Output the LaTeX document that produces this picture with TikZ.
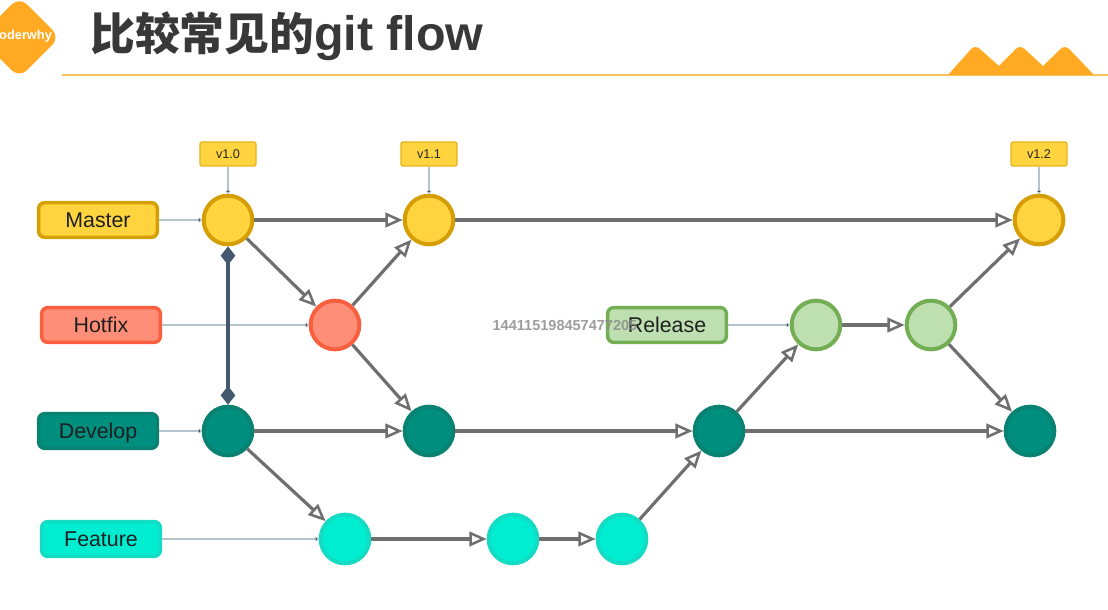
\documentclass[tikz,border=0pt]{standalone}
\usepackage{fontspec}
\setmainfont{Liberation Sans}
\newfontfamily\cjk{Noto Sans CJK SC}
\usepackage{tikz}
\usetikzlibrary{arrows.meta}
\definecolor{orangeA}{HTML}{FFAA22}
\definecolor{ruleA}{HTML}{F9C25C}
\definecolor{edgeA}{HTML}{6F6F6F}
\definecolor{thinA}{HTML}{B4C4CC}
\definecolor{linkA}{HTML}{44596E}
\definecolor{masterF}{HTML}{FFD43E}
\definecolor{masterD}{HTML}{D69E05}
\definecolor{hotfixF}{HTML}{FF8E78}
\definecolor{hotfixD}{HTML}{FA5F40}
\definecolor{releaseF}{HTML}{BEE0B0}
\definecolor{releaseD}{HTML}{73AE55}
\definecolor{developF}{HTML}{008F7F}
\definecolor{developD}{HTML}{0A8272}
\definecolor{featureF}{HTML}{00EDD2}
\definecolor{featureD}{HTML}{14DCC4}
\tikzset{
  >={Triangle[open,length=13pt,width=11pt,line width=1.9pt]}, % open arrow heads of the branches
  flow/.style={draw=edgeA, line width=2.4pt, ->},
  thin link/.style={draw=thinA, line width=0.8pt, -{Circle[length=3.5pt,width=3.5pt]}},
  label box/.style={rounded corners=4.5pt, line width=2.6pt, minimum width=89pt, minimum height=26pt, font=\fontsize{16}{16}\selectfont, text=black!88, inner sep=0pt, text height=11.5pt, text depth=0pt},
  commit/.style={circle, line width=3pt, minimum size=36.5pt, inner sep=0pt},
  tag/.style={draw=masterD!60!masterF, fill=masterF, rounded corners=1.5pt, line width=1pt, minimum width=42pt, minimum height=18pt, inner sep=0pt, font=\fontsize{9.5}{9.5}\selectfont, text=black!85},
  master/.style={draw=masterD, fill=masterF},
  hotfix/.style={draw=hotfixD, fill=hotfixF},
  release/.style={draw=releaseD, fill=releaseF},
  develop/.style={draw=developD, fill=developF},
  feature/.style={draw=featureD, fill=featureF},
}
\begin{document}
\begin{tikzpicture}
      \useasboundingbox (0,0) rectangle (831pt,-457.5pt);
      \begin{scope}
      \clip (0,0) rectangle (831pt,-457.5pt);
      % header
      \node[fill=orangeA, rounded corners=8pt, rotate=45, minimum size=43pt, inner sep=0pt] (logo) at (14.5pt,-28pt) {};
      \node[text=white, font=\bfseries\fontsize{9.6}{9.6}\selectfont, inner sep=0pt] (logotext) at (16.5pt,-27pt) {coderwhy};
      \end{scope}
      \node[anchor=west, inner sep=0pt, text=black!78, font=\bfseries\fontsize{36.3}{36.3}\selectfont] (title) at (67.5pt,-27.5pt) {{\cjk\fontsize{33.6}{33.6}\selectfont 比较常见的}git flow};
      \coordinate (rulestart) at (46.5pt,-56.25pt);
      \coordinate (ruleend) at (831pt,-56.25pt);
      \draw[ruleA, line width=1.3pt] (rulestart) -- (ruleend);
      \fill[orangeA] (711pt,-56.25pt) [rounded corners=4.5pt] -- (731.25pt,-33.5pt) [sharp corners] -- (749.25pt,-49.5pt) [rounded corners=4.5pt] -- (765pt,-33.5pt) [sharp corners] -- (782.25pt,-49.5pt) [rounded corners=4.5pt] -- (798.75pt,-33.5pt) [sharp corners] -- (820.5pt,-56.25pt) -- cycle;

      % labels
      \node[label box, master] (master) at (73.5pt,-165pt) {Master};
      \node[label box, hotfix] (hotfix) at (75.75pt,-243.75pt) {Hotfix};
      \node[label box, develop] (develop) at (73.5pt,-323.25pt) {Develop};
      \node[label box, feature] (feature) at (75.75pt,-404.25pt) {Feature};
      \node[label box, release, right of=hotfix, node distance=424.5pt] (release) {Release};

      % commits
      \node[commit, master, right of=master, node distance=97.5pt] (m1) {};
      \node[commit, master, right of=m1, node distance=150.75pt] (m2) {};
      \node[commit, master, right of=m2, node distance=457.5pt] (m3) {};
      \node[commit, hotfix, right of=hotfix, node distance=175.5pt] (h1) {};
      \node[commit, release, right of=release, node distance=111.75pt] (r1) {};
      \node[commit, release, right of=r1, node distance=86.25pt] (r2) {};
      \node[commit, develop, right of=develop, node distance=97.5pt] (d1) {};
      \node[commit, develop, right of=d1, node distance=150.75pt] (d2) {};
      \node[commit, develop, right of=d2, node distance=217.5pt] (d3) {};
      \node[commit, develop, right of=d3, node distance=233.25pt] (d4) {};
      \node[commit, feature, right of=feature, node distance=183pt] (f1) {};
      \node[commit, feature, right of=f1, node distance=126pt] (f2) {};
      \node[commit, feature, right of=f2, node distance=81.75pt] (f3) {};

      % tags
      \node[tag, above of=m1, node distance=49.5pt] (v10) {v1.0};
      \node[tag, above of=m2, node distance=49.5pt] (v11) {v1.1};
      \node[tag, above of=m3, node distance=49.5pt] (v12) {v1.2};

      \draw[thin link]
      (master) edge (m1)
      (hotfix) edge (h1)
      (release) edge (r1)
      (develop) edge (d1)
      (feature) edge (f1)
      (v10) edge (m1)
      (v11) edge (m2)
      (v12) edge (m3)
      ;

      \draw[flow]
      (m1) edge (m2)
      (m2) edge (m3)
      (m1) edge (h1)
      (h1) edge (m2)
      (h1) edge (d2)
      (d1) edge (d2)
      (d2) edge (d3)
      (d3) edge (d4)
      (d1) edge (f1)
      (f1) edge (f2)
      (f2) edge (f3)
      (f3) edge (d3)
      (d3) edge (r1)
      (r1) edge (r2)
      (r2) edge (m3)
      (r2) edge (d4)
      ;

      \draw[linkA, line width=3pt, {Diamond[length=14pt,width=11pt]}-{Diamond[length=14pt,width=11pt]}] (m1) -- (d1);

      % number printed over the picture
      \node[text=black!45, opacity=0.85, inner sep=0pt, font=\bfseries\fontsize{10.9}{10.9}\selectfont, right of=release, node distance=-76.5pt] (number) {144115198457477205};
\end{tikzpicture}
\end{document}
